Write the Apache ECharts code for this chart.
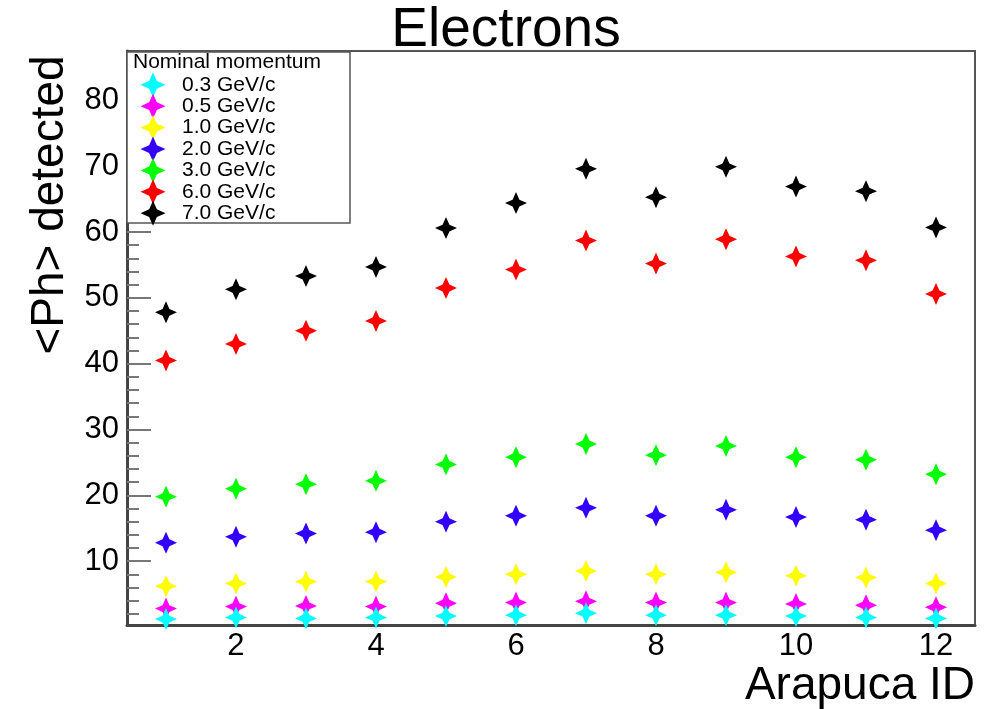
<!DOCTYPE html>
<html>
<head>
<meta charset="utf-8">
<title>Electrons</title>
<script src="https://cdn.jsdelivr.net/npm/echarts@6/dist/echarts.min.js"></script>
<style>
  html, body { margin: 0; padding: 0; background: #ffffff; }
  #main { width: 989px; height: 709px; }
</style>
</head>
<body>
<div id="main"></div>
<script>
// Arapuca ID on the x axis
const arapucaId = [1, 2, 3, 4, 5, 6, 7, 8, 9, 10, 11, 12];

// <Ph> detected for each nominal momentum
const ph03 = [1.2, 1.45, 1.3, 1.45, 1.65, 1.8, 2.1, 1.8, 1.8, 1.65, 1.45, 1.3];
const ph05 = [2.8, 3.1, 3.2, 3.1, 3.6, 3.7, 3.9, 3.7, 3.7, 3.5, 3.3, 3.0];
const ph10 = [6.2, 6.6, 6.9, 6.9, 7.6, 8.0, 8.5, 8.0, 8.3, 7.8, 7.5, 6.6];
const ph20 = [12.8, 13.7, 14.2, 14.4, 16.0, 16.9, 18.1, 16.9, 17.8, 16.7, 16.3, 14.7];
const ph30 = [19.8, 21.0, 21.7, 22.2, 24.7, 25.8, 27.8, 26.1, 27.5, 25.8, 25.4, 23.2];
const ph60 = [40.5, 43.0, 45.0, 46.5, 51.5, 54.3, 58.7, 55.2, 58.9, 56.3, 55.7, 50.6];
const ph70 = [47.8, 51.3, 53.3, 54.7, 60.6, 64.4, 69.6, 65.3, 69.9, 66.9, 66.2, 60.7];

const seriesNames = ["0.3 GeV/c", "0.5 GeV/c", "1.0 GeV/c", "2.0 GeV/c", "3.0 GeV/c", "6.0 GeV/c", "7.0 GeV/c"];
const seriesValues = [ph03, ph05, ph10, ph20, ph30, ph60, ph70];
const seriesColors = ["#00ffff", "#ff00ff", "#ffff00", "#3300ff", "#00ff00", "#ff0000", "#000000"];

// tick labels
const xLabels = [2, 4, 6, 8, 10, 12];
const yMajor = [10, 20, 30, 40, 50, 60, 70, 80];
const yMinor = [2, 4, 6, 8, 12, 14, 16, 18, 22, 24, 26, 28, 32, 34, 36, 38, 42, 44, 46, 48,
  52, 54, 56, 58, 62, 64, 66, 68, 72, 74, 76, 78, 82, 84, 86];

// four pointed star like the ROOT marker
const star = "path://M0,-10 L3.1,-3.1 L10,0 L3.1,3.1 L0,10 L-3.1,3.1 L-10,0 L-3.1,-3.1 Z";
const font = "Liberation Sans";

const chart = echarts.init(document.getElementById("main"));

const series = seriesNames.map((name, i) => ({
  name: name,
  type: "scatter",
  symbol: star,
  symbolSize: 22,
  clip: false,
  z: 10 - i,
  itemStyle: { color: seriesColors[i], opacity: 1 },
  data: arapucaId.map((id, k) => [id, seriesValues[i][k]]),
}));

const option = {
  animation: false,
  backgroundColor: "#ffffff",
  grid: {
    left: 127,
    right: 14,
    top: 51,
    bottom: 84,
    show: true,
    borderColor: "#555",
    borderWidth: 2,
  },
  legend: {
    orient: "vertical",
    left: 140.5,
    top: 72.3,
    padding: 0,
    icon: star,
    itemWidth: 25,
    itemHeight: 25,
    itemGap: -3.6,
    z: 12,
    data: seriesNames,
    textStyle: {
      fontFamily: font,
      fontSize: 21,
      color: "#000",
      padding: [0, 0, 0, 11.5],
    },
  },
  xAxis: {
    type: "value",
    min: 0.443,
    max: 12.557,
    splitLine: { show: false },
    axisLine: { lineStyle: { color: "#444", width: 3 } },
    axisTick: { show: false },
    axisLabel: {
      customValues: xLabels,
      margin: 6,
      fontFamily: font,
      fontSize: 31,
      color: "#000",
    },
  },
  yAxis: [
    {
      type: "value",
      min: 0.3,
      max: 87.5,
      splitLine: { show: false },
      axisLine: { show: true, lineStyle: { color: "#444", width: 3 } },
      axisTick: {
        show: true,
        inside: true,
        length: 24,
        customValues: yMajor,
        lineStyle: { color: "#777", width: 2 },
      },
      axisLabel: {
        customValues: yMajor,
        margin: 8,
        fontFamily: font,
        fontSize: 31,
        color: "#000",
      },
    },
    {
      // minor ticks only
      type: "value",
      position: "left",
      min: 0.3,
      max: 87.5,
      splitLine: { show: false },
      axisLine: { show: false },
      axisTick: {
        show: true,
        inside: true,
        length: 12,
        customValues: yMinor,
        lineStyle: { color: "#777", width: 2 },
      },
      axisLabel: { show: false },
    },
  ],
  graphic: [
    {
      // legend box
      type: "rect",
      z: 11,
      shape: { x: 127, y: 52, width: 223, height: 171 },
      style: { fill: "#ffffff", stroke: "#555", lineWidth: 1.5 },
    },
    {
      type: "text",
      z: 12,
      left: 133,
      top: 52,
      style: { text: "Nominal momentum", font: "21px " + font, fill: "#000" },
    },
    {
      type: "text",
      z: 12,
      x: 506,
      y: 31,
      style: {
        text: "Electrons",
        font: "55px " + font,
        fill: "#000",
        textAlign: "center",
        textVerticalAlign: "middle",
      },
    },
    {
      type: "text",
      z: 12,
      x: 50,
      y: 205,
      rotation: Math.PI / 2,
      style: {
        text: "<Ph> detected",
        font: "46px " + font,
        fill: "#000",
        textAlign: "center",
        textVerticalAlign: "middle",
      },
    },
    {
      type: "text",
      z: 12,
      x: 975,
      y: 686,
      style: {
        text: "Arapuca ID",
        font: "46px " + font,
        fill: "#000",
        textAlign: "right",
        textVerticalAlign: "middle",
      },
    },
  ],
  series: series,
};

chart.setOption(option);
</script>
</body>
</html>
